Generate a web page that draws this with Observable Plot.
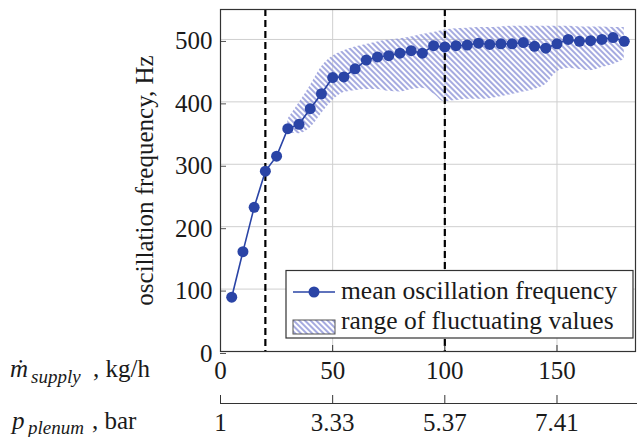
<!DOCTYPE html>
<html><head><meta charset="utf-8">
<script src="https://cdn.jsdelivr.net/npm/d3@7"></script>
<script src="https://cdn.jsdelivr.net/npm/@observablehq/plot@0.6"></script>
<style>
body{margin:0;background:#fff}
#chart{width:638px;height:437px}
</style>
</head><body><div id="chart"></div>
<script>
// mean oscillation frequency (Hz) vs supply mass flow (kg/h)
const massFlow = [5,10,15,20,25,30,35,40,45,50,55,60,65,70,75,80,85,90,95,100,105,110,115,120,125,130,135,140,145,150,155,160,165,170,175,180];
const meanFreq = [87,160,231,289,313,357,364,389,413,439,440,453,467,472,474,478,482,478,490,488,490,491,494,492,493,493,495,489,486,493,500,497,498,500,503,497];
// range of fluctuating values
const bandMass = [30,35,40,45,50,55,60,65,70,75,80,85,90,95,100,105,110,115,120,125,130,135,140,145,150,155,160,165,170,175,180];
const bandLow  = [350,349,358,381,402,415,418,420,420,417,416,420,422,413,400,402,404,404,405,408,412,416,420,428,448,454,452,450,455,460,468];
const bandHigh = [372,398,426,456,473,482,488,492,496,499,501,504,508,511,515,517,518,519,519,520,521,521,521,521,521,521,520,520,520,519,519];
// axes
const massTicks = [0,50,100,150];
const pressureTicks = ["1","3.33","5.37","7.41"];
const freqTicks = [0,100,200,300,400,500];
const markerLines = [20,100];
const legendLabels = ["mean oscillation frequency","range of fluctuating values"];
const yLabel = "oscillation frequency, Hz";

const meanData = massFlow.map((m,i)=>({m, f: meanFreq[i]}));
const bandData = bandMass.map((m,i)=>({m, lo: bandLow[i], hi: bandHigh[i]}));
const blue = "#2a44a6";
const hatchColor = "#8f95d8";
const serif = "Liberation Serif";

const plot = Plot.plot({
  width: 638, height: 437,
  marginLeft: 220, marginRight: 3, marginTop: 9, marginBottom: 86,
  style: {fontFamily: serif, fontSize: "25px", color: "#1a1a1a", background: "#fff"},
  x: {domain: [0,185]},
  y: {domain: [0,548]},
  marks: [
    Plot.gridX(massTicks.filter(d=>d>0), {stroke:"#cfcfcf", strokeOpacity:1}),
    Plot.gridY(freqTicks.filter(d=>d>0), {stroke:"#cfcfcf", strokeOpacity:1}),
    Plot.areaY(bandData, {x:"m", y1:"lo", y2:"hi", fill:"url(#hatch)", curve:"monotone-x"}),
    Plot.ruleX(markerLines, {stroke:"#000", strokeWidth:2.2, strokeDasharray:"7,4"}),
    Plot.line(meanData, {x:"m", y:"f", stroke: blue, strokeWidth:1.6}),
    Plot.dot(meanData, {x:"m", y:"f", r:5.5, fill: blue}),
    Plot.axisY(freqTicks, {tickSize:-6, tickPadding:14, stroke:"#555", label:null, dy:2}),
    Plot.axisX(massTicks, {tickSize:-6, tickPadding:16, stroke:"#333", label:null}),
    Plot.axisX(massTicks, {tickSize:-8, tickPadding:18, dy:52, stroke:"#333", label:null,
      tickFormat: d => pressureTicks[massTicks.indexOf(d)]}),
    Plot.ruleY([0], {dy:52, stroke:"#333", strokeWidth:1.2, insetRight:-2}),
    Plot.text([yLabel], {frameAnchor:"left", rotate:-90, dx:-76, text:d=>d, lineAnchor:"middle", textAnchor:"middle"}),
    Plot.frame({stroke:"#333", strokeWidth:1.2})
  ]
});

const svg = d3.select(plot);
const defs = svg.insert("defs", ":first-child");
const pat = defs.append("pattern").attr("id","hatch").attr("patternUnits","userSpaceOnUse")
  .attr("width",4).attr("height",4).attr("patternTransform","rotate(-45)");
pat.append("line").attr("x1",1).attr("y1",0).attr("x2",1).attr("y2",4)
  .attr("stroke",hatchColor).attr("stroke-width",1.6);

// legend
const lg = svg.append("g").attr("font-size",25.5).attr("text-anchor","start").attr("font-family",serif);
lg.append("rect").attr("x",286).attr("y",270.5).attr("width",347).attr("height",67.5)
  .attr("fill","#fff").attr("stroke","#333").attr("stroke-width",1.2);
lg.append("line").attr("x1",293).attr("x2",335).attr("y1",292).attr("y2",292)
  .attr("stroke",blue).attr("stroke-width",1.6);
lg.append("circle").attr("cx",314).attr("cy",292).attr("r",5.5).attr("fill",blue);
lg.append("rect").attr("x",293).attr("y",320).attr("width",42).attr("height",14)
  .attr("fill","url(#hatch)").attr("stroke","#555").attr("stroke-width",1);
lg.append("text").attr("x",341).attr("y",298.5).text(legendLabels[0]);
lg.append("text").attr("x",341).attr("y",328.5).text(legendLabels[1]);

// axis titles at the bottom left
const tg = svg.append("g").attr("text-anchor","start").attr("font-size",25).attr("font-family",serif);
const t1 = tg.append("text").attr("y",377);
t1.append("tspan").attr("x",10).attr("font-style","italic").text("ṁ");
t1.append("tspan").attr("x",31).attr("dy",6).attr("font-style","italic").attr("font-size",19).text("supply");
t1.append("tspan").attr("x",93).attr("dy",-6).text(", kg/h");
const t2 = tg.append("text").attr("y",429);
t2.append("tspan").attr("x",12).attr("font-style","italic").text("p");
t2.append("tspan").attr("x",28).attr("dy",5).attr("font-style","italic").attr("font-size",19).text("plenum");
t2.append("tspan").attr("x",92).attr("dy",-5).text(", bar");

document.getElementById("chart").appendChild(plot);
</script>
</body></html>
